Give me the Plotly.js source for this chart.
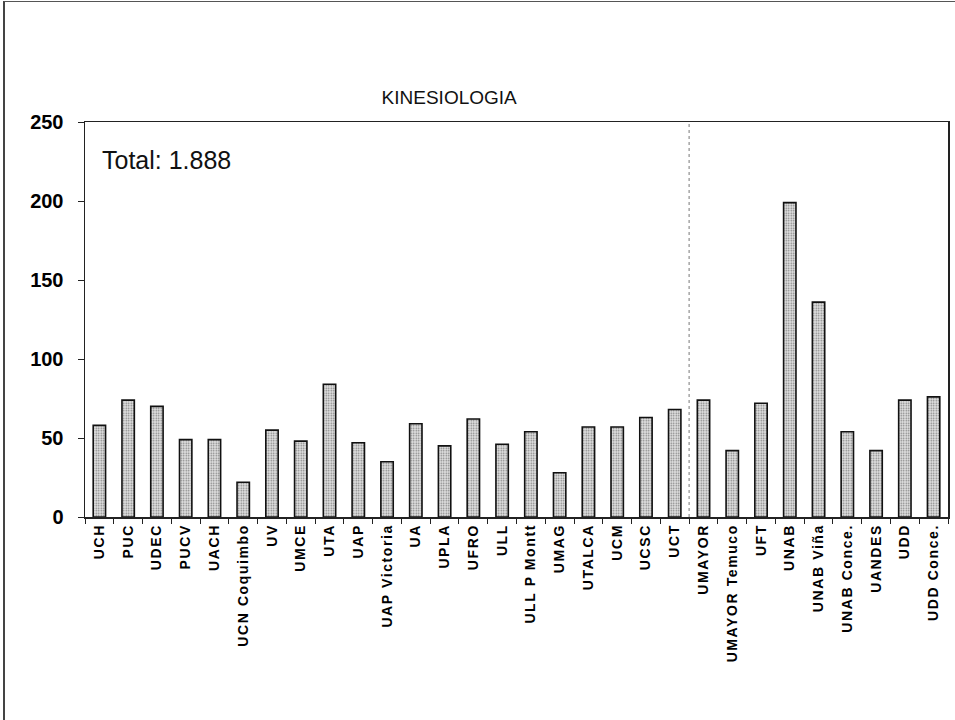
<!DOCTYPE html>
<html>
<head>
<meta charset="utf-8">
<script src="https://cdn.plot.ly/plotly-3.0.1.min.js"></script>
<style>
  html, body { margin: 0; padding: 0; background: #fff; }
  #wrap { position: relative; width: 955px; height: 720px; overflow: hidden; }
  #frame { position: absolute; left: 3px; top: 1px; width: 960px; height: 730px;
           border-left: 2px solid #444; border-top: 1px solid #555; pointer-events: none; }
  #chart { position: absolute; left: 0; top: 0; width: 955px; height: 720px; }
  #chart .xtick text { letter-spacing: 1.6px; }
</style>
</head>
<body>
<div id="wrap">
  <div id="chart"></div>
  <div id="frame"></div>
</div>
<script>
const categories = ["UCH","PUC","UDEC","PUCV","UACH","UCN Coquimbo","UV","UMCE","UTA","UAP",
  "UAP Victoria","UA","UPLA","UFRO","ULL","ULL P Montt","UMAG","UTALCA","UCM","UCSC",
  "UCT","UMAYOR","UMAYOR Temuco","UFT","UNAB","UNAB Viña","UNAB Conce.","UANDES","UDD","UDD Conce."];
const values = [58,74,70,49,49,22,55,48,84,47,
  35,59,45,62,46,54,28,57,57,63,
  68,74,42,72,199,136,54,42,74,76];
const chartTitle = "KINESIOLOGIA";
const totalLabel = "Total: 1.888";
const yTicks = [0,50,100,150,200,250];
const dividerBefore = "UMAYOR";

const trace = {
  type: "bar",
  x: categories,
  y: values,
  marker: {
    color: "#d0d0d0",
    line: { color: "#111", width: 1.6 },
    pattern: { shape: ".", fgcolor: "#7a7a7a", bgcolor: "#e2e2e2", size: 2.5, solidity: 0.3 }
  },
  hoverinfo: "x+y"
};

const divIdx = categories.indexOf(dividerBefore) - 0.5;

const layout = {
  width: 955, height: 720,
  margin: { l: 85, r: 7, t: 122, b: 203, pad: 0 },
  paper_bgcolor: "#fff",
  plot_bgcolor: "#fff",
  showlegend: false,
  bargap: 0.57,
  font: { family: "Liberation Sans, Arial, sans-serif", color: "#000" },
  title: {
    text: chartTitle,
    font: { family: "Liberation Sans, Arial, sans-serif", size: 19, color: "#111" },
    xref: "paper", x: 0.422, xanchor: "center",
    yref: "container", y: 0.865, yanchor: "middle"
  },
  xaxis: {
    type: "category",
    range: [-0.5, categories.length - 0.5],
    tickangle: -90,
    tickson: "boundaries",
    ticks: "outside", ticklen: 5, tickcolor: "#222", tickwidth: 1,
    showline: true, linecolor: "#222", linewidth: 1.5, mirror: true,
    showgrid: false, zeroline: false,
    tickfont: { family: "Liberation Sans, Arial, sans-serif", size: 14, color: "#000", weight: "bold" },
    fixedrange: true
  },
  yaxis: {
    range: [0, 250],
    tickvals: yTicks,
    ticktext: yTicks.map(String),
    ticks: "outside", ticklen: 6, tickcolor: "#222", tickwidth: 1,
    showline: true, linecolor: "#222", linewidth: 1.5, mirror: true,
    showgrid: false, zeroline: false,
    ticklabelstandoff: 10,
    tickfont: { family: "Liberation Sans, Arial, sans-serif", size: 20, color: "#000", weight: "bold" },
    fixedrange: true
  },
  shapes: [
    { type: "line", xref: "x", yref: "paper", x0: divIdx, x1: divIdx, y0: 0, y1: 1,
      line: { color: "#777", width: 1, dash: "dot" } }
  ],
  annotations: [
    { text: totalLabel, xref: "paper", yref: "paper", x: 0.017, y: 0.905,
      xanchor: "left", yanchor: "middle", showarrow: false,
      font: { family: "Liberation Sans, Arial, sans-serif", size: 25, color: "#111" } }
  ]
};

Plotly.newPlot("chart", [trace], layout, { displayModeBar: false, staticPlot: true });
</script>
</body>
</html>
